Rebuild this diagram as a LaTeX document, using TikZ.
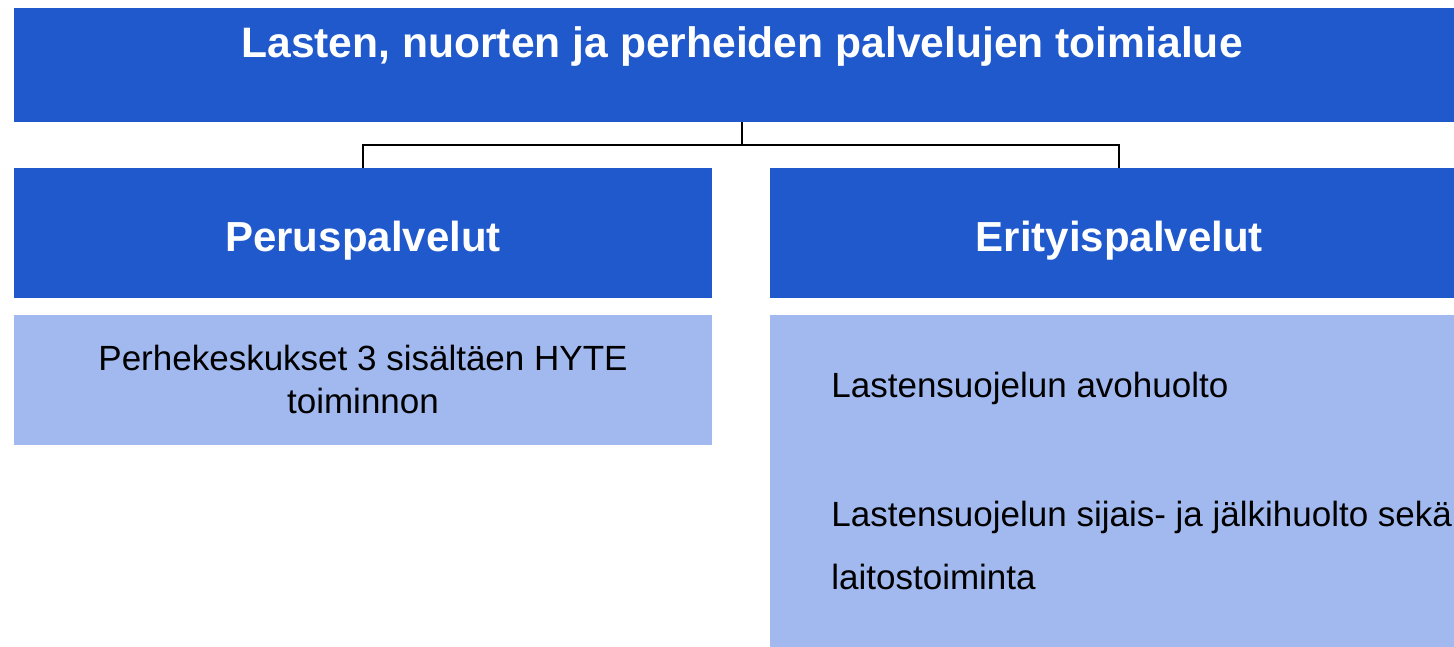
\documentclass[tikz,border=0pt]{standalone}
\usepackage{fontspec}
\setmainfont{Liberation Sans}
\usetikzlibrary{positioning}

\definecolor{deepblue}{RGB}{31,89,204}
\definecolor{paleblue}{RGB}{161,185,239}

\begin{document}
\begin{tikzpicture}[
    x=1pt, y=-1pt,
    box/.style={draw=none, rectangle, minimum width=698pt},
    head/.style={box, fill=deepblue, minimum height=130pt, text=white, text height=44pt, text depth=8pt, font=\fontsize{42pt}{50pt}\selectfont\bfseries},
    topbox/.style={head, minimum width=1456pt, minimum height=0pt, inner ysep=0pt, text height=50pt, text depth=64pt, font=\fontsize{42.6pt}{50pt}\selectfont\bfseries},
    pale/.style={box, fill=paleblue, align=center, font=\fontsize{35pt}{43pt}\selectfont},
    listtext/.style={inner sep=0pt, align=left, font=\fontsize{35pt}{63pt}\selectfont},
    link/.style={line width=2pt, black}
]
\useasboundingbox (0,0) rectangle (1454,647);
\clip (0,0) rectangle (1454,647);

% Top level
\node[topbox] (toimiala) at (742,65) {Lasten, nuorten ja perheiden palvelujen toimialue};

% Second level
\node[head, below right=46pt and 0pt of toimiala.south west] (perus) {Peruspalvelut};
\node[head, right=58pt of perus] (erity) {Erityispalvelut};

% Lists
\node[pale, below=16pt of perus, minimum height=130pt] (peruslista) {Perhekeskukset 3 sisältäen HYTE\\toiminnon};
\node[pale, below=16pt of erity, minimum height=333pt] (eritylista) {};
\node[listtext, right=61pt of eritylista.west] (erityteksti) {Lastensuojelun avohuolto\\[66pt]Lastensuojelun sijais- ja jälkihuolto sekä\\laitostoiminta};

% Connectors
\coordinate[below=23pt of toimiala.south] (haara);
\draw[link] (toimiala.south) -- (haara);
\foreach \i in {perus, erity}
    \draw[link] (haara) -| (\i.north);
\end{tikzpicture}
\end{document}
